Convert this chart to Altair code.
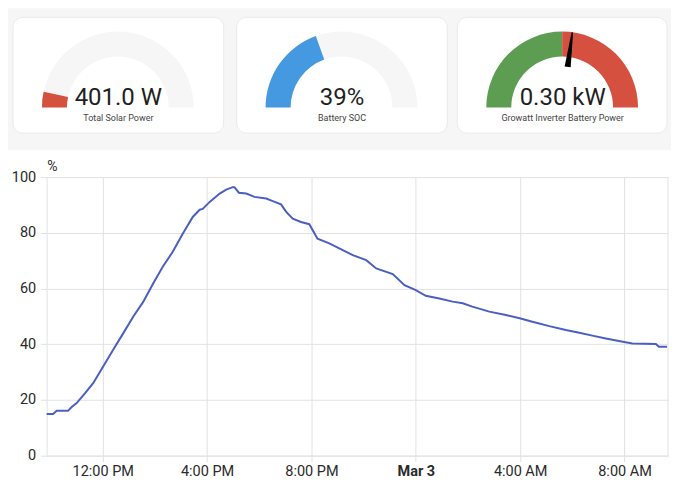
import math
import altair as alt
import pandas as pd

# ---------------- data ----------------
solar_value = 401.0
solar_min, solar_max = 0, 6000
soc_value = 39
soc_min, soc_max = 0, 100
batt_value = 0.30
batt_min, batt_max = -3.5, 3.5

times = [
    "2025-03-02T09:51", "2025-03-02T10:06", "2025-03-02T10:14", "2025-03-02T10:40",
    "2025-03-02T10:48", "2025-03-02T11:00", "2025-03-02T11:19", "2025-03-02T11:38",
    "2025-03-02T12:01", "2025-03-02T12:24", "2025-03-02T12:47", "2025-03-02T13:10",
    "2025-03-02T13:33", "2025-03-02T13:56", "2025-03-02T14:18", "2025-03-02T14:41",
    "2025-03-02T15:04", "2025-03-02T15:27", "2025-03-02T15:43", "2025-03-02T15:50",
    "2025-03-02T16:06", "2025-03-02T16:29", "2025-03-02T16:44", "2025-03-02T16:59",
    "2025-03-02T17:03", "2025-03-02T17:13", "2025-03-02T17:30", "2025-03-02T17:49",
    "2025-03-02T18:16", "2025-03-02T18:31", "2025-03-02T18:50", "2025-03-02T19:02",
    "2025-03-02T19:17", "2025-03-02T19:36", "2025-03-02T19:55", "2025-03-02T20:14",
    "2025-03-02T20:41", "2025-03-02T21:04", "2025-03-02T21:35", "2025-03-02T22:06",
    "2025-03-02T22:29", "2025-03-02T23:07", "2025-03-02T23:34", "2025-03-03T00:00",
    "2025-03-03T00:23", "2025-03-03T00:54", "2025-03-03T01:25", "2025-03-03T01:48",
    "2025-03-03T02:10", "2025-03-03T02:49", "2025-03-03T03:27", "2025-03-03T03:59",
    "2025-03-03T04:28", "2025-03-03T05:07", "2025-03-03T05:45", "2025-03-03T06:16",
    "2025-03-03T06:46", "2025-03-03T07:17", "2025-03-03T07:47", "2025-03-03T08:18",
    "2025-03-03T09:12", "2025-03-03T09:19", "2025-03-03T09:38",
]
soc = [
    15.0, 15.0, 16.1, 16.1, 17.4, 18.9, 22.4, 26.0,
    32.0, 38.0, 43.9, 49.9, 55.2, 61.8, 67.8, 73.2,
    79.7, 85.7, 88.3, 88.6, 91.1, 94.1, 95.5, 96.4,
    96.4, 94.4, 94.1, 92.9, 92.3, 91.4, 90.2, 87.5,
    85.1, 83.9, 83.1, 77.9, 76.2, 74.4, 72.0, 70.2,
    67.2, 65.2, 61.2, 59.4, 57.4, 56.4, 55.3, 54.7,
    53.5, 51.7, 50.5, 49.3, 48.1, 46.5, 45.1, 44.1,
    43.1, 42.1, 41.2, 40.3, 40.1, 39.1, 39.1,
]
y_ticks = [0, 20, 40, 60, 80, 100]

# ---------------- styles ----------------
FONT = "Roboto"
RED = "#d6503f"
GREEN = "#5c9d52"
BLUE = "#4599e0"
TRACK = "#f6f6f6"
PAGE_BG = "#f6f6f6"
LINE = "#4a5fc1"
GRID = "#e2e2e2"
R_OUT, R_IN = 76, 51
CY = 99.3
THETA_RANGE = [-math.pi / 2, math.pi / 2]

cards = [(5, 216), (229, 440), (450, 660)]
centers = [110, 334, 555]


def card(x0, x1):
    return alt.Chart(pd.DataFrame({"c": [0]})).mark_rect(
        fill="white", stroke="#e9e9e9", strokeWidth=1, cornerRadius=10
    ).encode(x=alt.value(x0), x2=alt.value(x1), y=alt.value(9), y2=alt.value(125))


def arc(df, start, end, color, dom, cx):
    return alt.Chart(df).mark_arc(radius=R_OUT, radius2=R_IN, color=color).encode(
        theta=alt.Theta(f"{start}:Q", stack=False,
                        scale=alt.Scale(domain=dom, range=THETA_RANGE)),
        theta2=f"{end}:Q",
        x=alt.value(cx), y=alt.value(CY),
    )


def value_text(df, expr, cx):
    return alt.Chart(df).transform_calculate(txt=expr).mark_text(
        font=FONT, fontSize=24, color="#1f1f1f", align="center", baseline="alphabetic"
    ).encode(text="txt:N", x=alt.value(cx), y=alt.value(96.5))


def name_text(name, cx):
    return alt.Chart(pd.DataFrame({"name": [name]})).mark_text(
        font=FONT, fontSize=9, color="#444444", align="center", baseline="alphabetic"
    ).encode(text="name:N", x=alt.value(cx), y=alt.value(112.5))


# gauge 1: solar
g1df = pd.DataFrame({"lo": [solar_min], "hi": [solar_max], "v": [solar_value]})
g1 = alt.layer(
    arc(g1df, "lo", "hi", TRACK, [solar_min, solar_max], centers[0]),
    arc(g1df, "lo", "v", RED, [solar_min, solar_max], centers[0]),
)
# gauge 2: SOC
g2df = pd.DataFrame({"lo": [soc_min], "hi": [soc_max], "v": [soc_value]})
g2 = alt.layer(
    arc(g2df, "lo", "hi", TRACK, [soc_min, soc_max], centers[1]),
    arc(g2df, "lo", "v", BLUE, [soc_min, soc_max], centers[1]),
)
# gauge 3: battery power with severity
g3df = pd.DataFrame({"lo": [batt_min], "mid": [0.0], "hi": [batt_max], "v": [batt_value]})
needle_path = "M-0.04,-0.54 L0.04,-0.54 L0.01,-1 L-0.01,-1 Z"
needle = alt.Chart(g3df).mark_point(
    shape=needle_path, filled=True, color="black", opacity=1, size=(2 * R_OUT) ** 2, strokeWidth=0
).encode(
    angle=alt.Angle("v:Q", scale=alt.Scale(domain=[batt_min, batt_max], range=[270, 450])),
    x=alt.value(centers[2]), y=alt.value(CY),
)
g3 = alt.layer(
    arc(g3df, "lo", "mid", GREEN, [batt_min, batt_max], centers[2]),
    arc(g3df, "mid", "hi", RED, [batt_min, batt_max], centers[2]),
)

gauges = alt.layer(
    card(*cards[0]), card(*cards[1]), card(*cards[2]),
    g1, g2, g3, needle,
    value_text(g1df, "format(datum.v, '.1f') + ' W'", centers[0] + 0.5),
    value_text(g2df, "format(datum.v, 'd') + '%'", centers[1] + 0.5),
    value_text(g3df, "format(datum.v, '.2f') + ' kW'", centers[2] + 0.5),
    name_text("Total Solar Power", centers[0] + 0.5),
    name_text("Battery SOC", centers[1] + 0.5),
    name_text("Growatt Inverter Battery Power", centers[2] + 0.5),
).resolve_scale(theta="independent", angle="independent").properties(
    width=664, height=142,
    view=alt.ViewBackground(fill=PAGE_BG, strokeWidth=0),
)

# ---------------- line chart ----------------
ldf = pd.DataFrame({"time": times, "soc": soc})

tick_vals = [
    alt.DateTime(year=2025, month=3, date=2, hours=12),
    alt.DateTime(year=2025, month=3, date=2, hours=16),
    alt.DateTime(year=2025, month=3, date=2, hours=20),
    alt.DateTime(year=2025, month=3, date=3, hours=0),
    alt.DateTime(year=2025, month=3, date=3, hours=4),
    alt.DateTime(year=2025, month=3, date=3, hours=8),
]

LW, LH = 661, 279
PLOT_LEFT = 38.7

line = alt.Chart(ldf).mark_line(color=LINE, strokeWidth=2).encode(
    x=alt.X(
        "time:T",
        scale=alt.Scale(
            domain=[
                alt.DateTime(year=2025, month=3, date=2, hours=9, minutes=51),
                alt.DateTime(year=2025, month=3, date=3, hours=9, minutes=40),
            ],
            range=[PLOT_LEFT, LW],
        ),
        axis=alt.Axis(
            values=tick_vals, title=None, domain=True, domainColor=GRID, grid=True,
            gridColor=GRID, tickColor=GRID, tickSize=6, labelPadding=3, labelFontSize=14.5,
            labelColor="#2a2a2a", labelFont=FONT,
            labelExpr="hours(datum.value) == 0 ? timeFormat(datum.value, '%b %-d') : timeFormat(datum.value, '%-I:%M %p')",
            labelFontWeight={"condition": {"test": "hours(datum.value) == 0", "value": "bold"}, "value": "normal"},
        ),
    ),
    y=alt.Y(
        "soc:Q",
        scale=alt.Scale(domain=[0, 100], nice=False),
        axis=alt.Axis(
            values=y_ticks, offset=-PLOT_LEFT, title="%", titleAngle=0, titleAlign="left",
            titleBaseline="alphabetic", titleX=0, titleY=-7, titleFontSize=14,
            titleFontWeight="normal", titleColor="#2a2a2a", titleFont=FONT,
            domain=True, domainColor=GRID, grid=True, gridColor=GRID, tickColor=GRID,
            tickSize=6, labelPadding=5, labelFontSize=14.5, labelColor="#2a2a2a",
            labelFont=FONT,
        ),
    ),
)

right_border = alt.Chart(pd.DataFrame({"c": [0]})).mark_rule(color=GRID, strokeWidth=1).encode(
    x=alt.value(LW), y=alt.value(0), y2=alt.value(LH)
)

line_chart = alt.layer(line, right_border).properties(
    width=LW, height=LH,
    view=alt.ViewBackground(fill="white", strokeWidth=0),
)

chart = alt.vconcat(gauges, line_chart, spacing=9).properties(
    padding=0, background="white"
).configure(font=FONT).configure_view(strokeWidth=0)

chart.save("out.html", embed_options={"renderer": "svg", "actions": False})
